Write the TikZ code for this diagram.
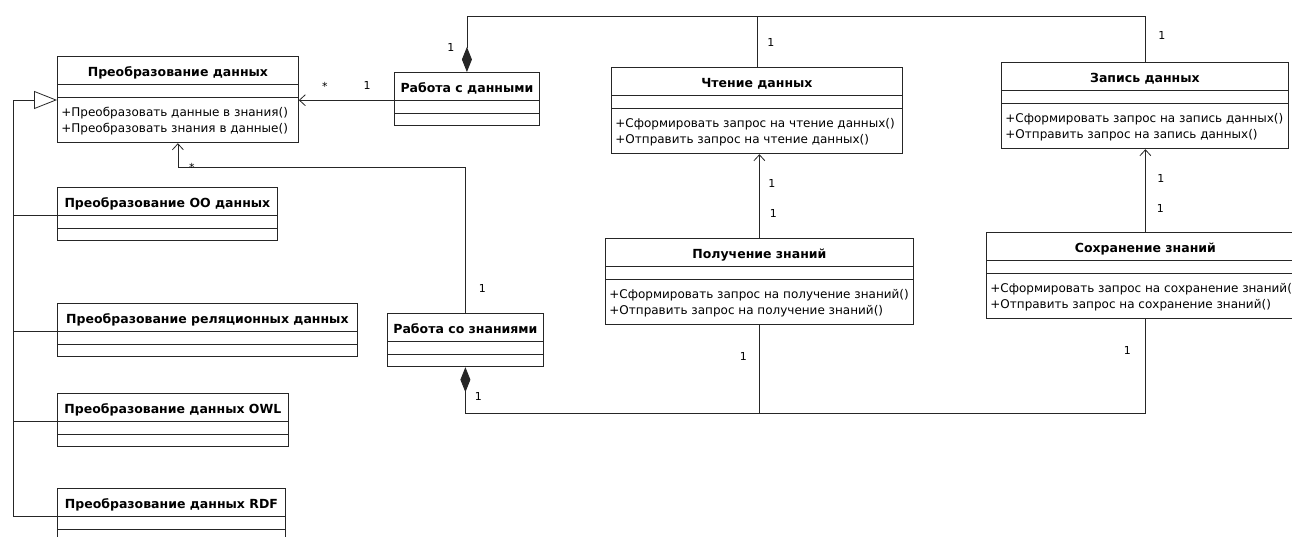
\documentclass[tikz,border=0pt]{standalone}
\usepackage{fontspec}
\setmainfont{DejaVu Sans}
\usetikzlibrary{shapes.multipart,arrows.meta}

\newcommand{\clsname}[1]{{\fontsize{12.5}{16}\selectfont\bfseries\rule[-7.5pt]{0pt}{27pt}#1}}
\newcommand{\clsops}[2]{\begin{tabular}{@{}l@{}}\rule{0pt}{19pt}#1\\\rule[-10pt]{0pt}{10pt}#2\end{tabular}}

\begin{document}
\begin{tikzpicture}
        [x=1pt,y=-1pt,
        umlclass/.style={draw=black!85,line width=0.8pt,rectangle split,rectangle split parts=3,
          rectangle split part align={center,left,left},rectangle split empty part height=12pt,
          rectangle split empty part depth=0pt,inner xsep=4pt,inner ysep=0pt,anchor=north west,
          font=\fontsize{12}{16}\selectfont},
        mult/.style={inner sep=0pt,font=\fontsize{11}{13}\selectfont},
        conn/.style={draw=black!85,line width=0.8pt},
        assoc/.style={conn,-{Straight Barb[length=6pt,width=11pt]}},
        compose/.style={conn,{Diamond[length=25pt,width=10pt]}-},
        inherit/.style={conn,-{Triangle[open,length=23pt,width=18pt]}}]
        \useasboundingbox (0,0) rectangle (1292,537);
        \clip (0,0) rectangle (1292,537);

        % classes
        \node[umlclass,minimum width=241pt] (conv) at (57,56) {\clsname{Преобразование данных}\nodepart{two}\nodepart{three}\clsops{+Преобразовать данные в знания()}{+Преобразовать знания в данные()}};
        \node[umlclass,minimum width=220pt] (oo) at (57,187) {\clsname{Преобразование ОО данных}\nodepart{two}\nodepart{three}};
        \node[umlclass,minimum width=300pt] (rel) at (57,303) {\clsname{Преобразование реляционных данных}\nodepart{two}\nodepart{three}};
        \node[umlclass,minimum width=231pt] (owl) at (57,393) {\clsname{Преобразование данных OWL}\nodepart{two}\nodepart{three}};
        \node[umlclass,minimum width=228pt] (rdf) at (57,488) {\clsname{Преобразование данных RDF}\nodepart{two}\nodepart{three}};
        \node[umlclass,minimum width=145pt] (data) at (394,72) {\clsname{Работа с данными}\nodepart{two}\nodepart{three}};
        \node[umlclass,minimum width=156pt] (know) at (387,313) {\clsname{Работа со знаниями}\nodepart{two}\nodepart{three}};
        \node[umlclass,minimum width=291pt] (read) at (611,67) {\clsname{Чтение данных}\nodepart{two}\nodepart{three}\clsops{+Сформировать запрос на чтение данных()}{+Отправить запрос на чтение данных()}};
        \node[umlclass,minimum width=287pt] (write) at (1001,62) {\clsname{Запись данных}\nodepart{two}\nodepart{three}\clsops{+Сформировать запрос на запись данных()}{+Отправить запрос на запись данных()}};
        \node[umlclass,minimum width=308pt] (get) at (605,238) {\clsname{Получение знаний}\nodepart{two}\nodepart{three}\clsops{+Сформировать запрос на получение знаний()}{+Отправить запрос на получение знаний()}};
        \node[umlclass,minimum width=318pt] (save) at (986,232) {\clsname{Сохранение знаний}\nodepart{two}\nodepart{three}\clsops{+Сформировать запрос на сохранение знаний()}{+Отправить запрос на сохранение знаний()}};

        % generalization
        \coordinate (genin) at ([yshift=-44pt]conv.north west);
        \coordinate (trunk) at ([xshift=-44pt]genin);
        \draw[inherit] (rdf.one split west) -| (trunk) -- (genin);
        \foreach \c in {oo,rel,owl}
            \draw[conn] (\c.one split west) -- (\c.one split west -| trunk);

        % associations
        \coordinate (topbus) at (0,16);
        \coordinate (midbus) at (0,167);
        \coordinate (botbus) at (0,413);
        \draw[assoc] (data.one split west) -- (data.one split west -| conv.east);
        \draw[compose] (data.north) -- (data.north |- topbus) -| (write.north);
        \draw[conn] (read.north) -- (read.north |- topbus);
        \draw[assoc] (get.north) -- (get.north |- read.south);
        \draw[assoc] (save.north) -- (save.north |- write.south);
        \draw[assoc] (know.north) |- (conv.south |- midbus) -- (conv.south);
        \draw[compose] (know.south) -- (know.south |- botbus) -| (save.south);
        \draw[conn] (get.south) -- (get.south |- botbus);

        % multiplicities
        \node[mult] (m-data-l) at ([shift={(-27,-15)}]data.one split west) {1};
        \node[mult] (m-conv-r) at ([shift={(26,-11)}]conv.two split east) {*};
        \node[mult] (m-data-t) at ([shift={(-16,-25)}]data.north) {1};
        \node[mult] (m-read-t) at ([shift={(14,-25)}]read.north) {1};
        \node[mult] (m-write-t) at ([shift={(17,-27)}]write.north) {1};
        \node[mult] (m-read-b) at ([shift={(15,29)}]read.south) {1};
        \node[mult] (m-get-t) at ([shift={(14,-25)}]get.north) {1};
        \node[mult] (m-write-b) at ([shift={(16,29)}]write.south) {1};
        \node[mult] (m-save-t) at ([shift={(15,-24)}]save.north) {1};
        \node[mult] (m-get-b) at ([shift={(-16,31)}]get.south) {1};
        \node[mult] (m-save-b) at ([shift={(-18,31)}]save.south) {1};
        \node[mult] (m-know-b) at ([shift={(13,29)}]know.south) {1};
        \node[mult] (m-know-t) at ([shift={(17,-25)}]know.north) {1};
        \node[mult] (m-conv-b) at ([shift={(14,24)}]conv.south) {*};
\end{tikzpicture}
\end{document}
